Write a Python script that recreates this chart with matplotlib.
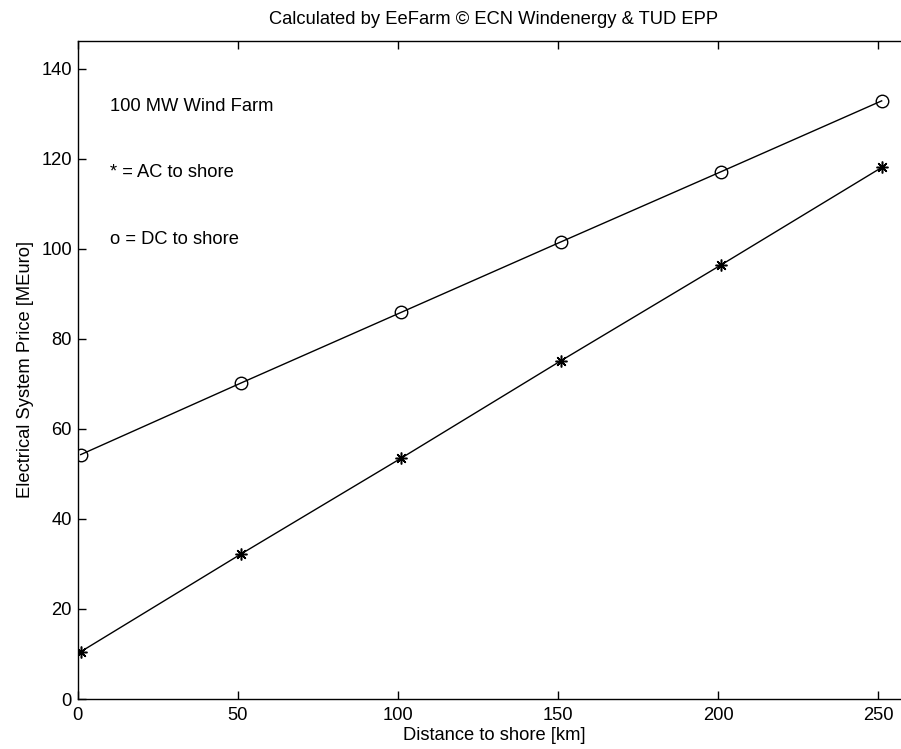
#!/usr/bin/env python3
"""Electrical system price vs distance to shore, AC vs DC (EeFarm)"""

import matplotlib
matplotlib.use("Agg")
import matplotlib.pyplot as plt

distance_km = [1, 51, 101, 151, 201, 251]
ac_price = [10.5, 32.2, 53.5, 75.2, 96.5, 118.1]
dc_price = [54.3, 70.2, 85.9, 101.6, 117.2, 132.9]

x_ticks = [0, 50, 100, 150, 200, 250]
y_ticks = [0, 20, 40, 60, 80, 100, 120, 140]

notes = ["100 MW Wind Farm", "* = AC to shore", "o = DC to shore"]
note_y = [131.6, 116.9, 102.2]


def main():
    plt.rcParams["font.family"] = ["Liberation Sans", "DejaVu Sans"]
    fs = 13.2
    fig = plt.figure(figsize=(9.01, 7.49), dpi=100)
    # axes runs a bit past the right edge, like the cropped original
    ax = fig.add_axes([77.5 / 901, 50 / 749, 833 / 901, 658 / 749])

    ax.plot(distance_km, dc_price, color="black", lw=1.0, marker="o",
            ms=9, mfc="none", mec="black", mew=1.0)
    ax.plot(distance_km, ac_price, color="black", lw=1.0, marker=(8, 2, 0),
            ms=8.5, mec="black", mew=1.1)

    for txt, y in zip(notes, note_y):
        ax.text(10.2, y, txt, fontsize=fs, va="center", ha="left")

    ax.set_xlim(0, 260)
    ax.set_ylim(0, 146.2)
    ax.set_xticks(x_ticks)
    ax.set_yticks(y_ticks)
    ax.tick_params(direction="in", length=6, width=1.0, top=True, right=True,
                   labelsize=fs, pad=4)
    ax.tick_params(axis="x", pad=6)
    for s in ax.spines.values():
        s.set_linewidth(1.0)

    ax.set_xlabel("Distance to shore [km]", fontsize=fs, labelpad=2)
    ax.set_ylabel("Electrical System Price [MEuro]", fontsize=fs, labelpad=5)
    ax.set_title("Calculated by EeFarm \u00a9 ECN Windenergy & TUD EPP",
                 fontsize=fs, pad=12)

    fig.savefig("out.png", dpi=100)


if __name__ == "__main__":
    main()
